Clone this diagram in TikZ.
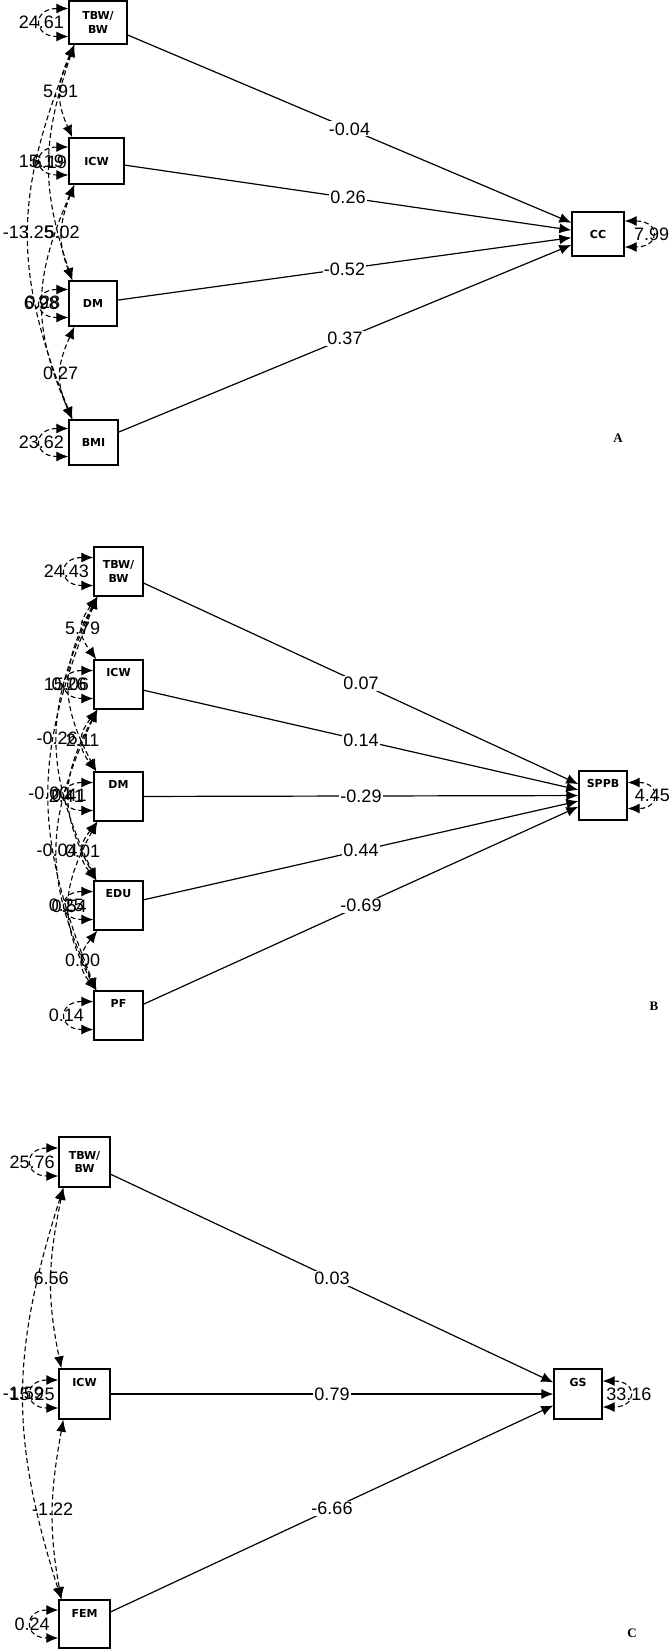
\documentclass[tikz,border=0pt]{standalone}
\usepackage{fontspec}
\setmainfont{Liberation Sans}
\newfontfamily\boxfont{DejaVu Sans}
\newfontfamily\panelfont{Liberation Serif}
\usetikzlibrary{arrows.meta}

\begin{document}
\begin{tikzpicture}[x=1pt, y=-1pt, >={Latex[length=12pt,width=10pt]},
  box/.style={draw, line width=1.3pt, inner sep=0pt, font=\boxfont\bfseries\fontsize{11}{13.5}\selectfont},
  tbox/.style={box, minimum width=49pt, text height=8pt, text depth=25pt, inner ysep=8pt},
  num/.style={inner sep=0pt, font=\fontsize{18}{20}\selectfont},
  coef/.style={num, fill=white, inner sep=1pt},
  reg/.style={->, line width=1.2pt},
  cov/.style={<->, line width=1.1pt, dash pattern=on 5pt off 3pt},
  panel/.style={font=\panelfont\bfseries\fontsize{13}{15}\selectfont}]
\useasboundingbox (0,0) rectangle (671,1651);

% Panel A
\node[box, align=center, minimum width=58pt, minimum height=43pt] (tbwA) at (98,22.5) {TBW/\\BW};
\node[box, minimum width=55pt, minimum height=46pt] (icwA) at (96.5,161) {ICW};
\node[box, minimum width=48pt, minimum height=45pt] (dmA) at (93,303.5) {DM};
\node[box, minimum width=49pt, minimum height=45pt] (bmiA) at (93.5,442.5) {BMI};
\node[box, minimum width=52pt, minimum height=44pt] (cc) at (598,234) {CC};
\node[panel] (labA) at (618,438) {A};
\draw[reg] (tbwA) -- (cc) node[pos=0.5, coef] {-0.04};
\draw[reg] (icwA) -- (cc) node[pos=0.5, coef] {0.26};
\draw[reg] (dmA) -- (cc) node[pos=0.5, coef] {-0.52};
\draw[reg] (bmiA) -- (cc) node[pos=0.5, coef] {0.37};
\draw[cov] ([yshift=14pt]tbwA.west) .. controls +(-36,0) and +(-36,0) .. ([yshift=-14pt]tbwA.west) node[pos=0.5, num] {24.61};
\draw[cov] ([yshift=14pt]icwA.west) .. controls +(-36,0) and +(-36,0) .. ([yshift=-14pt]icwA.west) node[pos=0.5, num] {15.19};
\draw[cov] ([yshift=14pt]dmA.west) .. controls +(-36,0) and +(-36,0) .. ([yshift=-14pt]dmA.west) node[pos=0.5, num] {6.98};
\draw[cov] ([yshift=14pt]bmiA.west) .. controls +(-36,0) and +(-36,0) .. ([yshift=-14pt]bmiA.west) node[pos=0.5, num] {23.62};
\draw[cov] ([yshift=13pt]cc.east) .. controls +(36,0) and +(36,0) .. ([yshift=-13pt]cc.east) node[pos=0.5, num] {7.99};
\draw[cov] ([xshift=6pt]tbwA.south west) .. controls +(-17,38) and +(-17,-38) .. ([xshift=4pt]icwA.north west) node[pos=0.5, num] {5.91};
\draw[cov] ([xshift=6pt]icwA.south west) .. controls +(-15,39) and +(-15,-39) .. ([xshift=4pt]dmA.north west) node[pos=0.5, num] {5.02};
\draw[cov] ([xshift=6pt]dmA.south west) .. controls +(-17,38) and +(-17,-38) .. ([xshift=4pt]bmiA.north west) node[pos=0.5, num] {0.27};
\draw[cov] ([xshift=6pt]tbwA.south west) .. controls +(-32,95) and +(-32,-95) .. ([xshift=4pt]dmA.north west) node[pos=0.5, num] {6.19};
\draw[cov] ([xshift=6pt]icwA.south west) .. controls +(-41,94) and +(-41,-94) .. ([xshift=4pt]bmiA.north west) node[pos=0.5, num] {0.28};
\draw[cov] ([xshift=6pt]tbwA.south west) .. controls +(-60,150) and +(-60,-150) .. ([xshift=4pt]bmiA.north west) node[pos=0.5, num] {-13.25};

% Panel B
\node[box, align=center, minimum width=49pt, minimum height=49pt] (tbwB) at (118.5,571.5) {TBW/\\BW};
\node[tbox] (icwB) at (118.5,684.5) {ICW};
\node[tbox] (dmB) at (118.5,796.5) {DM};
\node[tbox] (eduB) at (118.5,905.5) {EDU};
\node[tbox] (pfB) at (118.5,1015.5) {PF};
\node[tbox, minimum width=48pt] (sppb) at (603,795.5) {SPPB};
\node[panel] (labB) at (654,1006) {B};
\draw[reg] (tbwB) -- (sppb) node[pos=0.5, coef] {0.07};
\draw[reg] (icwB) -- (sppb) node[pos=0.5, coef] {0.14};
\draw[reg] (dmB) -- (sppb) node[pos=0.5, coef] {-0.29};
\draw[reg] (eduB) -- (sppb) node[pos=0.5, coef] {0.44};
\draw[reg] (pfB) -- (sppb) node[pos=0.5, coef] {-0.69};
\draw[cov] ([yshift=14pt]tbwB.west) .. controls +(-36,0) and +(-36,0) .. ([yshift=-14pt]tbwB.west) node[pos=0.5, num] {24.43};
\draw[cov] ([yshift=14pt]icwB.west) .. controls +(-36,0) and +(-36,0) .. ([yshift=-14pt]icwB.west) node[pos=0.5, num] {15.06};
\draw[cov] ([yshift=14pt]dmB.west) .. controls +(-36,0) and +(-36,0) .. ([yshift=-14pt]dmB.west) node[pos=0.5, num] {2.41};
\draw[cov] ([yshift=14pt]eduB.west) .. controls +(-36,0) and +(-36,0) .. ([yshift=-14pt]eduB.west) node[pos=0.5, num] {0.25};
\draw[cov] ([yshift=14pt]pfB.west) .. controls +(-36,0) and +(-36,0) .. ([yshift=-14pt]pfB.west) node[pos=0.5, num] {0.14};
\draw[cov] ([yshift=13pt]sppb.east) .. controls +(33,0) and +(33,0) .. ([yshift=-13pt]sppb.east) node[pos=0.5, num] {4.45};
\draw[cov] ([xshift=4pt]tbwB.south west) .. controls +(-19,26) and +(-19,-26) .. ([xshift=3pt]icwB.north west) node[pos=0.5, num] {5.79};
\draw[cov] ([xshift=4pt]icwB.south west) .. controls +(-19,25) and +(-19,-25) .. ([xshift=3pt]dmB.north west) node[pos=0.5, num] {2.11};
\draw[cov] ([xshift=4pt]dmB.south west) .. controls +(-19,24) and +(-19,-24) .. ([xshift=3pt]eduB.north west) node[pos=0.5, num] {0.01};
\draw[cov] ([xshift=4pt]eduB.south west) .. controls +(-19,24) and +(-19,-24) .. ([xshift=3pt]pfB.north west) node[pos=0.5, num] {0.00};
\draw[cov] ([xshift=4pt]tbwB.south west) .. controls +(-37,70) and +(-37,-70) .. ([xshift=3pt]dmB.north west) node[pos=0.5, num] {0.26};
\draw[cov] ([xshift=4pt]icwB.south west) .. controls +(-37,69) and +(-37,-69) .. ([xshift=3pt]eduB.north west) node[pos=0.5, num] {0.41};
\draw[cov] ([xshift=4pt]dmB.south west) .. controls +(-37,68) and +(-37,-68) .. ([xshift=3pt]pfB.north west) node[pos=0.5, num] {0.54};
\draw[cov] ([xshift=4pt]tbwB.south west) .. controls +(-53,114) and +(-53,-114) .. ([xshift=3pt]eduB.north west) node[pos=0.5, num] {-0.26};
\draw[cov] ([xshift=4pt]icwB.south west) .. controls +(-53,113) and +(-53,-113) .. ([xshift=3pt]pfB.north west) node[pos=0.5, num] {-0.04};
\draw[cov] ([xshift=4pt]tbwB.south west) .. controls +(-64,158) and +(-64,-158) .. ([xshift=3pt]pfB.north west) node[pos=0.5, num] {-0.00};

% Panel C
\node[box, align=center, minimum width=51pt, minimum height=50pt] (tbwC) at (84.5,1162) {TBW/\\BW};
\node[tbox, minimum width=51pt, text depth=24pt, inner ysep=9pt] (icwC) at (84.5,1394) {ICW};
\node[tbox, minimum width=51pt, text depth=22pt, inner ysep=9pt] (femC) at (84.5,1624) {FEM};
\node[tbox, minimum width=48pt, text depth=24pt, inner ysep=9pt] (gs) at (578,1394) {GS};
\node[panel] (labC) at (632,1633) {C};
\draw[reg] (tbwC) -- (gs) node[pos=0.5, coef] {0.03};
\draw[reg] (icwC) -- (gs) node[pos=0.5, coef] {0.79};
\draw[reg] (femC) -- (gs) node[pos=0.5, coef] {-6.66};
\draw[cov] ([yshift=14pt]tbwC.west) .. controls +(-35,0) and +(-35,0) .. ([yshift=-14pt]tbwC.west) node[pos=0.5, num] {25.76};
\draw[cov] ([yshift=14pt]icwC.west) .. controls +(-35,0) and +(-35,0) .. ([yshift=-14pt]icwC.west) node[pos=0.5, num] {15.25};
\draw[cov] ([yshift=14pt]femC.west) .. controls +(-35,0) and +(-35,0) .. ([yshift=-14pt]femC.west) node[pos=0.5, num] {0.24};
\draw[cov] ([yshift=13pt]gs.east) .. controls +(35,0) and +(35,0) .. ([yshift=-13pt]gs.east) node[pos=0.5, num] {33.16};
\draw[cov] ([xshift=5pt]tbwC.south west) .. controls +(-15,73) and +(-15,-73) .. ([xshift=3pt]icwC.north west) node[pos=0.5, num] {6.56};
\draw[cov] ([xshift=5pt]icwC.south west) .. controls +(-13,72) and +(-13,-72) .. ([xshift=3pt]femC.north west) node[pos=0.5, num] {-1.22};
\draw[cov] ([xshift=5pt]tbwC.south west) .. controls +(-52,165) and +(-52,-165) .. ([xshift=3pt]femC.north west) node[pos=0.5, num] {-1.59};
\end{tikzpicture}
\end{document}
